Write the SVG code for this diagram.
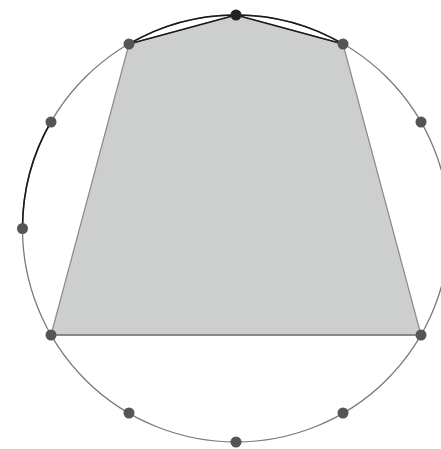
<svg xmlns="http://www.w3.org/2000/svg" width="441" height="449" viewBox="0 0 441 449">
<style>
.circ{fill:none;stroke:#7a7a7a;stroke-width:1.3}
.dark{fill:none;stroke:#1a1a1a;stroke-width:1.6}
.poly{fill:#cdcfcf;stroke:#8a8a8a;stroke-width:1.2}
.dot{fill:#555555}
</style>
<rect width="441" height="449" fill="#ffffff"/>
<g id="circle">
<circle class="circ" cx="236" cy="228.5" r="213.5"/>
</g>
<g id="shape">
<polygon class="poly" points="129,44 236,15 343,44 421,335 51,335"/>
</g>
<g id="connectors">
<line class="dark" x1="129" y1="44" x2="236" y2="15"/>
<line class="dark" x1="236" y1="15" x2="343" y2="44"/>
<line x1="51" y1="335" x2="421" y2="335" stroke="#7a7a7a" stroke-width="1.3"/>
<path class="dark" d="M129,44 A213.5,213.5 0 0 1 236,15 A213.5,213.5 0 0 1 343,44"/>
<path class="dark" d="M51,121.75 A213.5,213.5 0 0 0 22.5,228.5"/>
</g>
<g id="points">
<circle id="p90" class="dot" cx="236" cy="15" r="5.5" style="fill:#222222"/>
<circle id="p120" class="dot" cx="129" cy="44" r="5.5"/>
<circle id="p60" class="dot" cx="343" cy="44" r="5.5"/>
<circle id="p150" class="dot" cx="51" cy="122" r="5.5"/>
<circle id="p30" class="dot" cx="421" cy="122" r="5.5"/>
<circle id="p180" class="dot" cx="22.5" cy="228.5" r="5.5"/>
<circle id="p210" class="dot" cx="51" cy="335" r="5.5"/>
<circle id="p330" class="dot" cx="421" cy="335" r="5.5"/>
<circle id="p240" class="dot" cx="129" cy="413" r="5.5"/>
<circle id="p300" class="dot" cx="343" cy="413" r="5.5"/>
<circle id="p270" class="dot" cx="236" cy="442" r="5.5"/>
</g>
</svg>
